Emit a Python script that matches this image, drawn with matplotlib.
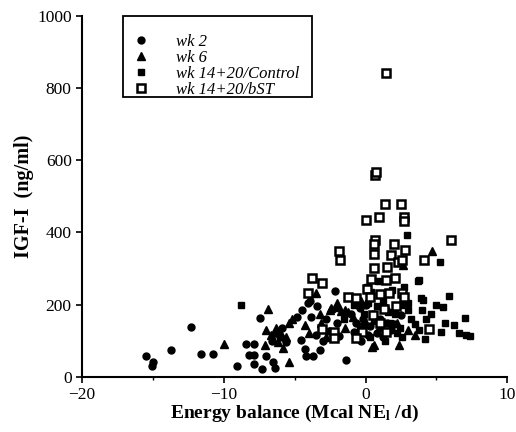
import numpy as np
import matplotlib
matplotlib.use("Agg")
import matplotlib.pyplot as plt
from matplotlib.ticker import MultipleLocator
from matplotlib.patches import Rectangle

plt.rcParams['font.family'] = ['Liberation Serif', 'DejaVu Serif']
plt.rcParams['mathtext.fontset'] = 'stix'

# wk 2 (circles)
wk2_x = [-15.5, -15.0, -15.05, -13.7, -12.3, -11.6, -10.75, -9.08, -8.4, -7.9,
         -8.2, -7.87, -7.9, -7.3, -7.0, -6.5, -6.4, -7.46, -5.87, -4.84,
         -4.53, -4.3, -4.18, -3.71, -3.24, -4.06, -3.83, -2.18, -1.36, -0.66,
         -6.3, -6.0, -5.6, -6.6, -2.8, -2.0, -1.0, -0.4, -0.2, 0.3,
         0.8, 1.2, 1.8, -0.8, -1.9, -2.6, -3.5, -3.0, -4.5, -3.9,
         -3.4, 0.0, 0.5, 1.0, 1.5, 2.0, 2.5, 0.2, -0.3]
wk2_y = [57, 41, 29, 73, 138, 62, 64, 29, 90, 90,
         59, 60, 34, 21, 58, 41, 25, 163, 136, 166,
         101, 78, 57, 57, 73, 203, 166, 237, 46, 148,
         120, 110, 95, 100, 160, 150, 175, 190, 160, 140,
         120, 110, 130, 125, 112, 128, 115, 100, 185, 210,
         195, 200, 175, 160, 150, 145, 170, 115, 100]

# wk 6 (triangles)
wk6_x = [-10.0, -6.85, -6.99, -7.06, -6.7, -6.5, -6.3, -6.0, -6.2, -5.8,
         -5.4, -5.4, -5.2, -4.3, -3.5, -3.24, -2.54, -3.12, -2.42, -1.71,
         -1.48, -1.25, -1.48, -0.9, -4.0, -2.8, 0.63, 0.47, 2.39, 2.63,
         4.67, 1.0, 1.5, 2.2, 3.0, 3.5, 0.0, -0.3, -2.0, -5.6]
wk6_y = [90, 187, 129, 89, 115, 105, 135, 125, 95, 80,
         41, 148, 160, 143, 233, 175, 184, 148, 191, 182,
         186, 180, 134, 165, 120, 110, 87, 83, 87, 309,
         348, 140, 190, 150, 130, 115, 150, 210, 205, 110]

# wk 14+20 / Control (filled squares)
ctl_x = [-8.8, 2.96, 5.28, 3.76, 5.92, 4.04, 4.98, 5.45, 7.02, 3.99,
         5.63, 6.25, 5.33, 6.62, 7.09, 7.39, 3.68, 3.92, 2.98, 0.1,
         0.4, 0.2, 0.8, 1.2, 1.6, 2.1, 2.5, 3.2, 3.5, 3.0,
         2.2, 1.0, 0.6, -0.1, -0.4, 0.3, 1.4, 2.6, 3.8, 4.3,
         4.6, 1.9, 2.7, -1.5, -2.0, -0.8, 0.9, 1.7, 2.4, 4.2]
ctl_y = [200, 392, 317, 268, 223, 212, 198, 194, 163, 184,
         148, 142, 124, 121, 115, 112, 266, 217, 184, 250,
         235, 205, 195, 210, 180, 175, 200, 160, 145, 205,
         120, 135, 155, 175, 140, 110, 100, 110, 130, 160,
         175, 240, 250, 160, 190, 200, 265, 150, 135, 105]

# wk 14+20 / bST (open squares)
bst_x = [1.46, 0.65, 0.75, 1.39, 2.54, 0.07, 0.94, 2.72, 2.72, -1.88,
         -1.83, 0.65, 0.58, 2.04, 6.03, 0.58, 1.81, 2.82, 2.28, 2.58,
         4.13, 0.58, 1.53, -3.78, -3.05, 0.4, 1.46, 2.11, -4.06, 0.12,
         0.99, 1.69, -1.25, -0.66, 0.35, 2.58, 2.72, 1.34, 2.16, 0.56,
         -0.28, 1.46, 4.46, -3.05, -2.23, -2.23, -0.66, 1.0]
bst_y = [841, 560, 568, 480, 480, 435, 443, 443, 432, 348,
         323, 379, 369, 369, 379, 340, 337, 351, 318, 323,
         323, 300, 303, 274, 260, 270, 268, 274, 231, 244,
         228, 231, 221, 219, 220, 232, 220, 189, 196, 171,
         124, 124, 131, 131, 124, 108, 106, 150]

fig = plt.figure(figsize=(5.16, 4.32), dpi=100)
ax = fig.add_axes([0.159, 0.128, 0.824, 0.835])

ax.plot(wk2_x, wk2_y, 'o', color='black', markersize=5, linestyle='none', label='wk 2')
ax.plot(wk6_x, wk6_y, '^', color='black', markersize=6, linestyle='none', label='wk 6')
ax.plot(ctl_x, ctl_y, 's', color='black', markersize=5, linestyle='none', label='wk 14+20/Control')
ax.plot(bst_x, bst_y, 's', markerfacecolor='white', markeredgecolor='black',
        markeredgewidth=1.8, markersize=6, linestyle='none', label='wk 14+20/bST')

ax.set_xlim(-20, 10)
ax.set_ylim(0, 1000)
ax.set_xticks([-20, -10, 0, 10])
ax.xaxis.set_minor_locator(MultipleLocator(5))
ax.set_yticks([0, 200, 400, 600, 800, 1000])
ax.spines['top'].set_visible(False)
ax.spines['right'].set_visible(False)
ax.spines['left'].set_linewidth(1.5)
ax.spines['bottom'].set_linewidth(1.5)
ax.tick_params(axis='both', which='major', direction='out', length=4, width=1.2, labelsize=12.5)
ax.tick_params(axis='x', which='minor', direction='out', length=2.5, width=1)

ax.set_xlabel('Energy balance (Mcal NE$_\\mathbf{l}$ /d)', fontsize=14, fontweight='bold', labelpad=0)
ax.set_ylabel('IGF-I  (ng/ml)', fontsize=14.5, fontweight='bold', labelpad=2)

# legend entries without frame, box drawn separately
leg = ax.legend(loc='upper left', bbox_to_anchor=(0.096, 1.0), borderaxespad=0, frameon=False,
                handletextpad=1.6, labelspacing=0.0, borderpad=0.6,
                prop={'style': 'italic', 'size': 12}, handlelength=1.0,
                title=' ', title_fontsize=6)
box = Rectangle((0.096, 0.775), 0.445, 0.225, transform=ax.transAxes, fill=False,
                edgecolor='black', linewidth=1.3, clip_on=False)
ax.add_patch(box)

fig.savefig('out.png', dpi=100)
